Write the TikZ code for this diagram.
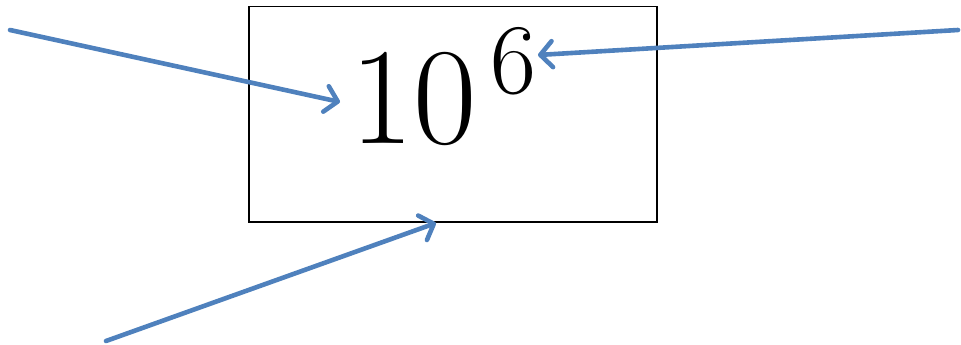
\documentclass[tikz,border=0pt]{standalone}
\usepackage{fontspec}
\usepackage{tikz}
\usetikzlibrary{positioning,arrows.meta}
\definecolor{ink}{HTML}{000000}
\definecolor{arrowblue}{HTML}{4F81BD}
\tikzset{
  frame/.style={draw=ink, line width=1.5pt, minimum width=408pt, minimum height=215pt, inner sep=0pt},
  ptr/.style={-{Straight Barb[round,length=12pt,width=26pt]}, line width=4.6pt, line cap=round, color=arrowblue},
  bignum/.style={font=\fontsize{138}{138}\selectfont, text=ink, inner sep=0pt, xscale=1.0, transform shape},
}

\begin{document}
\begin{tikzpicture}[x=1pt,y=-1pt]
  \useasboundingbox (0,0) rectangle (961,345);
  \node[frame, anchor=north west] (box) at (248,6) {};
  \node[bignum, anchor=base west] (num) at (350,143)
    {10\hspace{14pt}\raisebox{50pt}{\fontsize{100}{100}\selectfont 6}};
  % arrow ends
  \coordinate (leftTail) at (10,30);
  \coordinate (leftTip) at (340,102);
  \coordinate (rightTail) at (958,30);
  \coordinate (rightTip) at (538,55);
  \coordinate (lowTail) at (106,341);
  \coordinate (lowTip) at (436,223);
  \draw[ptr] (leftTail) -- (leftTip);
  \draw[ptr] (rightTail) -- (rightTip);
  \draw[ptr] (lowTail) -- (lowTip);
\end{tikzpicture}
\end{document}
